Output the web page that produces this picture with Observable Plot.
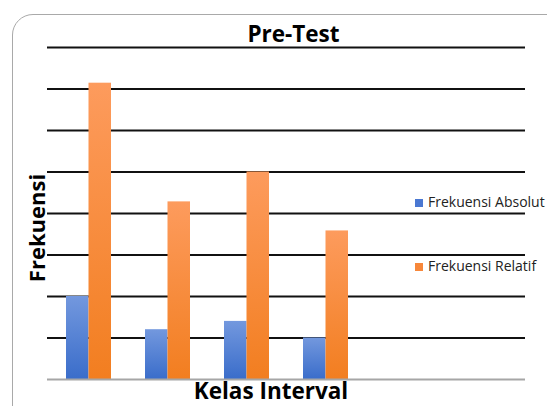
<!DOCTYPE html>
<html>
<head>
<meta charset="utf-8">
<script src="https://cdn.jsdelivr.net/npm/d3@7"></script>
<script src="https://cdn.jsdelivr.net/npm/@observablehq/plot@0.6"></script>
<style>
  html, body { margin: 0; padding: 0; background: #fff; overflow: hidden; }
  #wrap { position: relative; width: 547px; height: 406px; overflow: hidden; font-family: "Open Sans", sans-serif; }
  #frame { position: absolute; left: 12px; top: 14px; width: 560px; height: 420px; border: 1.5px solid #a9a9a9; border-radius: 21px; box-sizing: border-box; }
  #chart { position: absolute; left: 0; top: 0; }
  .title { position: absolute; left: 20px; width: 547px; top: 23px; text-align: center; font-weight: 700; font-size: 22.5px; color: #000; line-height: 1; }
  .xlabel { position: absolute; left: -2.5px; width: 547px; top: 380px; text-align: center; font-weight: 700; font-size: 22.5px; color: #000; line-height: 1; }
  .ylabel { position: absolute; left: 35.5px; top: 227.5px; transform: translate(-50%, -50%) rotate(-90deg); font-weight: 700; font-size: 22px; color: #000; white-space: nowrap; line-height: 1; }
  .legend { position: absolute; left: 415px; font-size: 14px; color: #222; white-space: nowrap; line-height: 1; }
  .legend span.sw { display: inline-block; width: 8px; height: 8px; margin-right: 5px; vertical-align: 0px; }
</style>
</head>
<body>
<div id="wrap">
  <div id="frame"></div>
  <div id="chart"></div>
</div>
<script>
const categories = ["1", "2", "3", "4", "5", "6"];
const seriesNames = ["Frekuensi Absolut", "Frekuensi Relatif"];
const absolut = [10, 6, 7, 5];
const relatif = [35.7, 21.4, 25, 17.9];
const yTicks = [5, 10, 15, 20, 25, 30, 35, 40];
const seriesColors = ["#4a78d2", "#f7873a"];
const titleText = "Pre-Test";
const xLabel = "Kelas Interval";
const yLabel = "Frekuensi";

const dataAbs = absolut.map((v, i) => ({cat: categories[i], series: seriesNames[0], value: v}));
const dataRel = relatif.map((v, i) => ({cat: categories[i], series: seriesNames[1], value: v}));

const plot = Plot.plot({
  width: 547,
  height: 406,
  marginLeft: 47,
  marginRight: 22,
  marginTop: 47,
  marginBottom: 27,
  style: {background: "transparent", overflow: "visible"},
  x: {type: "band", domain: categories, paddingInner: 0.435, paddingOuter: 0.2175, axis: null},
  y: {domain: [0, 40], axis: null},
  marks: [
    Plot.ruleY(yTicks, {stroke: "#111", strokeWidth: 2.2}),
    Plot.barY(dataAbs, {x: "cat", y: "value", fill: "url(#gBlue)", insetRight: 22.5, insetLeft: 0}),
    Plot.barY(dataRel, {x: "cat", y: "value", fill: "url(#gOrange)", insetLeft: 22.5, insetRight: 0}),
    Plot.ruleY([0], {stroke: "#a6a6a6", strokeWidth: 2})
  ]
});

const svg = d3.select(plot);
const defs = svg.insert("defs", ":first-child");
function grad(id, top, bottom) {
  const g = defs.append("linearGradient").attr("id", id).attr("x1", 0).attr("y1", 0).attr("x2", 0).attr("y2", 1);
  g.append("stop").attr("offset", "0%").attr("stop-color", top);
  g.append("stop").attr("offset", "100%").attr("stop-color", bottom);
}
grad("gBlue", "#7398de", "#3a6dca");
grad("gOrange", "#fd9b5d", "#f27e20");

document.getElementById("chart").appendChild(plot);

const wrap = document.getElementById("wrap");
function addDiv(cls, html) {
  const d = document.createElement("div");
  d.className = cls;
  d.innerHTML = html;
  wrap.appendChild(d);
  return d;
}
addDiv("title", titleText);
addDiv("xlabel", xLabel);
addDiv("ylabel", yLabel);
const legTops = [195, 259];
seriesNames.forEach((name, i) => {
  const d = addDiv("legend", `<span class="sw" style="background:${seriesColors[i]}"></span>${name}`);
  d.style.top = legTops[i] + "px";
});
</script>
</body>
</html>
